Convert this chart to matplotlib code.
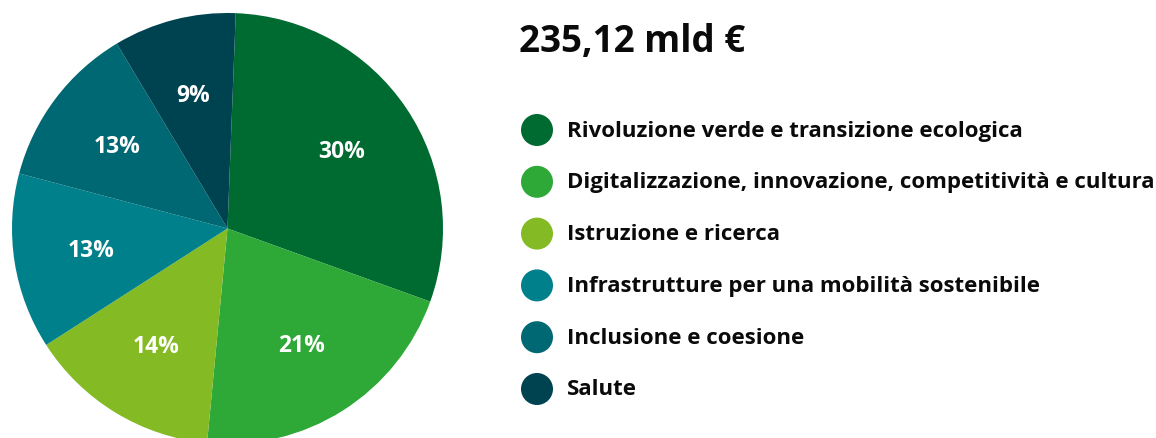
import matplotlib.pyplot as plt
from matplotlib.patches import Circle
import numpy as np

plt.rcParams['font.family'] = ['Open Sans', 'DejaVu Sans']

categorie = ['Rivoluzione verde e transizione ecologica',
             'Digitalizzazione, innovazione, competitività e cultura',
             'Istruzione e ricerca',
             'Infrastrutture per una mobilità sostenibile',
             'Inclusione e coesione',
             'Salute']
quote = [29.9, 21.0, 14.4, 13.2, 12.3, 9.2]
etichette = ['30%', '21%', '14%', '13%', '13%', '9%']
colori = ['#006b30', '#2ea836', '#84ba24', '#00808a', '#006873', '#004350']
totale = '235,12 mld €'

W, H = 1156, 439
fig = plt.figure(figsize=(W / 100, H / 100), dpi=100)
ax = fig.add_axes([0, 0, 1, 1])

cx, cy, r = 227.5, H - 229.5, 215.5
wedges, testi = ax.pie(quote, colors=colori, center=(cx, cy), radius=r,
                       startangle=87.8, counterclock=False,
                       wedgeprops=dict(linewidth=0))

# etichette percentuali dentro le fette
for w, et in zip(wedges, etichette):
    ang = np.deg2rad((w.theta1 + w.theta2) / 2)
    ax.text(cx + 0.64 * r * np.cos(ang), cy + 0.64 * r * np.sin(ang), et,
            color='white', fontsize=16.5, fontweight='bold',
            ha='center', va='center')

ax.set_xlim(0, W)
ax.set_ylim(0, H)
ax.set_aspect('equal')
ax.axis('off')

# titolo
ax.text(519, H - 42, totale, fontsize=26.5, fontweight='bold',
        color='#0a0a0a', ha='left', va='center')

# legenda
y0 = 131
passo = 51.8
for i, (cat, col) in enumerate(zip(categorie, colori)):
    y = H - (y0 + i * passo)
    ax.add_patch(Circle((537, y), 16, color=col, linewidth=0))
    ax.text(567, y, cat, fontsize=16, fontweight='bold',
            color='#0a0a0a', ha='left', va='center')

fig.savefig('out.png', dpi=100)
